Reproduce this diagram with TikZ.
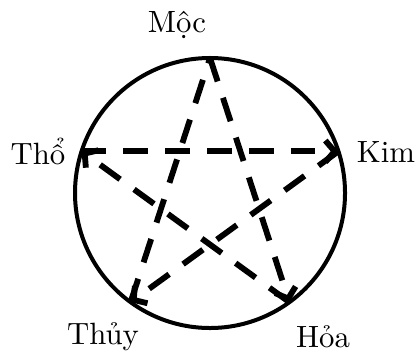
\documentclass[tikz,border=0pt]{standalone}
\usepackage{fontspec}
\usetikzlibrary{arrows.meta}
\begin{document}
\begin{tikzpicture}[x=0.325pt,y=-0.325pt,
  ring/.style={line width=1.3pt},
  chord/.style={line width=1.9pt, dash pattern=on 8pt off 5.6pt},
  tipped/.style={chord, -{Straight Barb[length=3pt,width=7pt]}},
  lbl/.style={inner sep=0pt, font=\fontsize{10}{12}\selectfont}]
\useasboundingbox (0,0) rectangle (419,352);
\coordinate (c) at (210,193);
\draw[ring] (c) circle[radius=135];
\coordinate (moc) at (210,58);
\coordinate (kim) at (338.4,151.3);
\coordinate (hoa) at (289.4,302.2);
\coordinate (thuy) at (130.6,302.2);
\coordinate (tho) at (81.6,151.3);
\node[lbl] (Lmoc) at (177,25) {Mộc};
\node[lbl] (Lkim) at (386,152) {Kim};
\node[lbl] (Lhoa) at (323,337) {Hỏa};
\node[lbl] (Lthuy) at (103,337) {Thủy};
\node[lbl] (Ltho) at (38,151) {Thổ};
\draw[tipped] (moc) -- (hoa);
\draw[tipped] (hoa) -- (tho);
\draw[tipped] (tho) -- (kim);
\draw[tipped] (kim) -- (thuy);
\draw[chord] (thuy) -- (moc);
\end{tikzpicture}
\end{document}
